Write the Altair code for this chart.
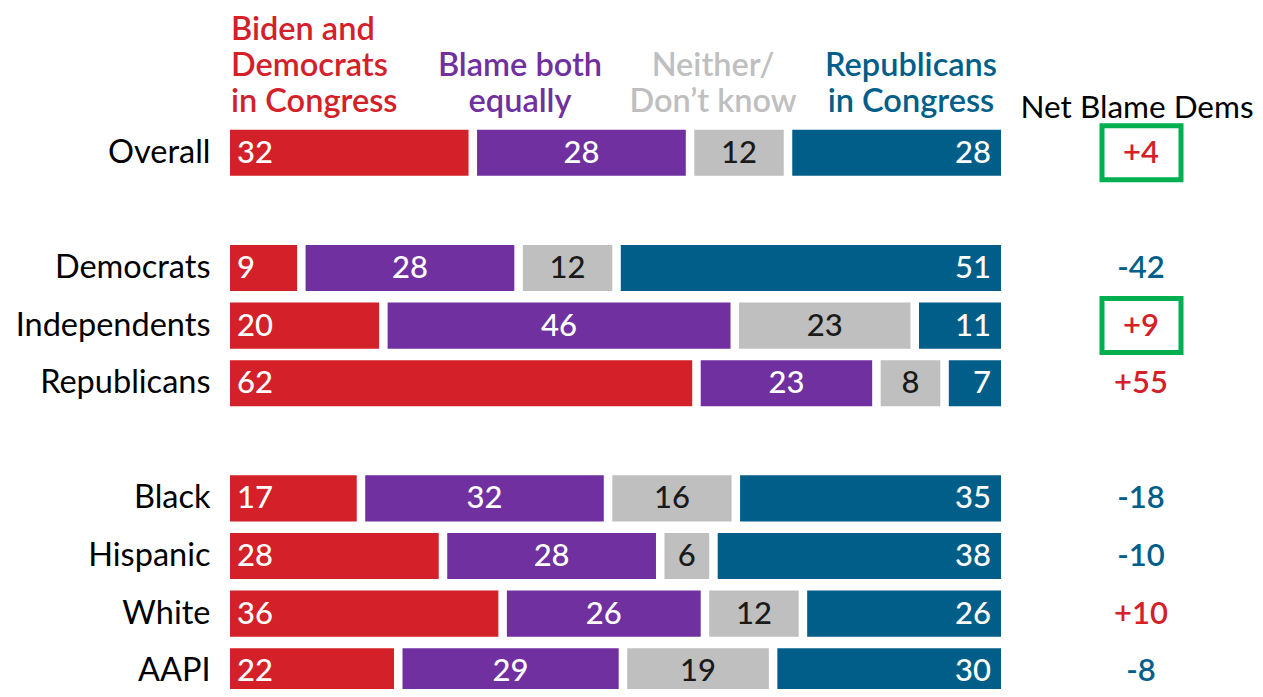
import altair as alt
import pandas as pd

rows = ["Overall", "Democrats", "Independents", "Republicans", "Black", "Hispanic", "White", "AAPI"]
dem = [32, 9, 20, 62, 17, 28, 36, 22]
both = [28, 28, 46, 23, 32, 28, 26, 29]
neither = [12, 12, 23, 8, 16, 6, 12, 19]
rep = [28, 51, 11, 7, 35, 38, 26, 30]
highlight = ["Overall", "Independents"]

order = ["Overall", "_1", "Democrats", "Independents", "Republicans", "_2", "Black", "Hispanic", "White", "AAPI"]
series = ["dem", "both", "neither", "rep"]
colors = ["#D42029", "#7030A0", "#BFBFBF", "#005E89"]
GAP = 1.14

recs = []
for i, r in enumerate(rows):
    vals = [dem[i], both[i], neither[i], rep[i]]
    cum = 0
    for j, (s, v) in enumerate(zip(series, vals)):
        start = cum + j * GAP
        recs.append(dict(row=r, series=s, value=v, start=start, end=start + v, mid=start + v / 2, pos=j))
        cum += v
df = pd.DataFrame(recs)

net = pd.DataFrame({"row": rows, "net": [d - p for d, p in zip(dem, rep)]})
net["label"] = net["net"].map(lambda v: f"+{v}" if v > 0 else f"{v}")

FONT = "Lato"
RED, BLUE = "#D42029", "#005E89"
W, H = 771, 565

xs = alt.Scale(domain=[0, 100 + 3 * GAP], nice=False, zero=False)
ys = alt.Scale(domain=order, range=[0, 576], paddingInner=0.2, paddingOuter=0.1)
Y = alt.Y("row:N", scale=ys, title=None,
          axis=alt.Axis(domain=False, ticks=False, labelFont=FONT, labelFontSize=32.5,
                        labelColor="black", labelPadding=20, labelLimit=400,
                        labelExpr="indexof(datum.label,'_')==0 ? '' : datum.label"))

base = alt.Chart(df)
bars = base.mark_bar().encode(
    x=alt.X("start:Q", scale=xs, axis=None),
    x2="end:Q",
    y=Y,
    color=alt.Color("series:N", scale=alt.Scale(domain=series, range=colors), legend=None),
)

tstyle = dict(font=FONT, fontSize=31, fontWeight=500, baseline="alphabetic", dy=10)
t_first = base.transform_filter("datum.pos==0").mark_text(align="left", dx=7, color="white", **tstyle).encode(
    x="start:Q", y=Y, text="value:Q")
t_mid = base.transform_filter("datum.pos==1").mark_text(align="center", color="white", **tstyle).encode(
    x="mid:Q", y=Y, text="value:Q")
t_gray = base.transform_filter("datum.pos==2").mark_text(align="center", color="#1a1a1a", **tstyle).encode(
    x="mid:Q", y=Y, text="value:Q")
t_last = base.transform_filter("datum.pos==3").mark_text(align="right", dx=-10, color="white", **tstyle).encode(
    x="end:Q", y=Y, text="value:Q")

netc = alt.Chart(net)
net_text = netc.mark_text(font=FONT, fontSize=31, fontWeight=600, align="center", baseline="alphabetic", dy=10).encode(
    x=alt.value(911), y=Y, text="label:N",
    color=alt.condition("datum.net > 0", alt.value(RED), alt.value(BLUE)))
boxes = netc.transform_filter(alt.FieldOneOfPredicate(field="row", oneOf=highlight)).mark_bar(
    height=54, filled=False, stroke="#00B050", strokeWidth=5).encode(
    x=alt.value(872), x2=alt.value(951), y=Y)

def header(lines, x, ys_, align, color, weight, size=32.5):
    out = []
    for line, yy in zip(lines, ys_):
        out.append(alt.Chart(pd.DataFrame({"t": [line]})).mark_text(
            font=FONT, fontSize=size, fontWeight=weight, align=align, baseline="alphabetic", color=color
        ).encode(x=alt.value(x), y=alt.value(yy), text="t:N"))
    return out

heads = []
heads += header(["Biden and", "Democrats", "in Congress"], 1, [-84, -48, -12], "left", RED, 600)
heads += header(["Blame both", "equally"], 290, [-48, -12], "center", "#7030A0", 600)
heads += header(["Neither/", "Don\u2019t know"], 483, [-48, -12], "center", "#BFBFBF", 600)
heads += header(["Republicans", "in Congress"], 681, [-48, -12], "center", BLUE, 600)
heads += header(["Net Blame Dems"], 907, [-6], "center", "black", 400, 31.5)

chart = alt.layer(bars, t_first, t_mid, t_gray, t_last, net_text, boxes, *heads).properties(
    width=W, height=H,
    autosize=alt.AutoSizeParams(type="none"),
    padding={"left": 222, "top": 116, "right": 254, "bottom": 0},
).configure_view(stroke=None)

chart.save("out.html", embed_options={"renderer": "svg", "actions": False})
